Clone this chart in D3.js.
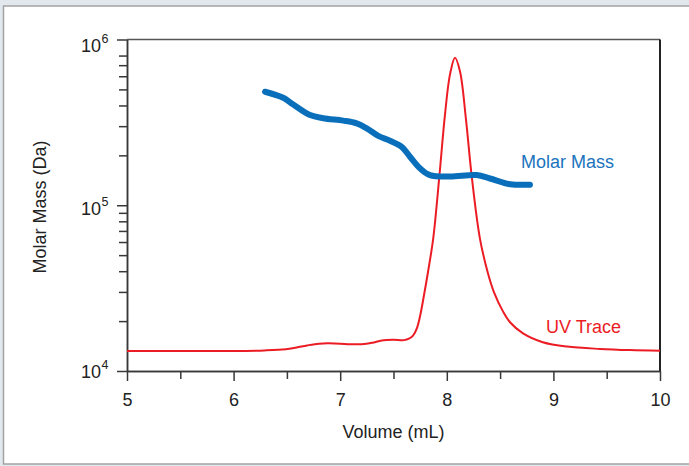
<!DOCTYPE html>
<html><head><meta charset="utf-8">
<script src="https://cdn.jsdelivr.net/npm/d3@7"></script>
<style>
html,body{margin:0;padding:0;background:#fff;}
svg{display:block;font-family:"Liberation Sans",Arial,sans-serif;}
</style></head>
<body>
<svg id="c" width="689" height="466"></svg>
<script>
// ---- data ----
const majorX = [5, 6, 7, 8, 9, 10];
const minorX = [5.5, 6.5, 7.5, 8.5, 9.5];
const majorY = [1e4, 1e5, 1e6];
const majorYExp = ["4", "5", "6"];
const minorY = [2e4,3e4,4e4,5e4,6e4,7e4,8e4,9e4,2e5,3e5,4e5,5e5,6e5,7e5,8e5];

// Molar mass (Da) vs volume (mL)
const mmVolume = [6.295,6.466,6.56,6.717,6.84,7.029,7.155,7.249,7.357,7.467,7.577,7.655,7.749,7.842,8.03,8.28,8.405,8.593,8.78];
const mmMass   = [4.84e5,4.45e5,4.05e5,3.50e5,3.35e5,3.24e5,3.12e5,2.91e5,2.62e5,2.45e5,2.25e5,1.96e5,1.67e5,1.52e5,1.49e5,1.52e5,1.45e5,1.34e5,1.33e5];

// UV trace (relative, peak = 1) vs volume (mL)
const uvVolume = [5.0,5.5,6.0,6.29,6.49,6.59,6.69,6.80,6.89,7.0,7.09,7.2,7.3,7.39,7.5,7.6,7.645,7.683,7.72,7.75,7.786,7.824,7.873,7.93,7.983,8.03,8.077,8.124,8.18,8.234,8.31,8.386,8.443,8.527,8.593,8.715,8.9,9.128,9.437,9.72,10.0];
const uvValue  = [0.0,0.0,0.0,0.002,0.006,0.012,0.019,0.025,0.026,0.025,0.023,0.023,0.028,0.036,0.038,0.037,0.042,0.052,0.078,0.12,0.19,0.27,0.385,0.595,0.806,0.943,1.0,0.953,0.789,0.595,0.385,0.265,0.2,0.135,0.098,0.06,0.03,0.015,0.007,0.003,0.001];

// ---- chart ----
const svg = d3.select("#c");
const L = 127, R = 660, T = 39.5, B = 371;
const x = d3.scaleLinear().domain([5, 10]).range([L, R]);
const y = d3.scaleLog().domain([1e4, 1e6]).range([B, T]);
const yUV = d3.scaleLinear().domain([-0.0683, 1.062]).range([B, T]);

// frame
svg.append("rect").attr("x",0).attr("y",0).attr("width",689).attr("height",466).attr("fill","#e3e8ee");
svg.append("rect").attr("x",3.5).attr("y",6).attr("width",700).attr("height",458)
  .attr("fill","#fff").attr("stroke","#a3a3a3").attr("stroke-width",1.5);

const axisColor = "#383838";
const txtColor = "#222";

// top & right border
svg.append("line").attr("x1",L).attr("x2",R).attr("y1",y(1e6)).attr("y2",y(1e6))
  .attr("stroke","#555").attr("stroke-width",1.5);
svg.append("line").attr("x1",x(10)).attr("x2",x(10)).attr("y1",T).attr("y2",B)
  .attr("stroke","#222").attr("stroke-width",2);

function styleAxis(g){
  g.selectAll("path,line").attr("stroke",axisColor).attr("stroke-width",1.5);
  g.selectAll("text").remove();
}

// x axis
svg.append("g").attr("transform",`translate(0,${B})`)
  .call(d3.axisBottom(x).tickValues(minorX).tickSize(8).tickSizeOuter(0).tickFormat(""))
  .call(styleAxis);
const gx = svg.append("g").attr("transform",`translate(0,${B})`)
  .call(d3.axisBottom(x).tickValues(majorX).tickSize(10).tickSizeOuter(0).tickFormat(d3.format("d")))
  .call(g=>g.selectAll("path,line").attr("stroke",axisColor).attr("stroke-width",1.5));
gx.selectAll("text").attr("y",null).attr("dy",null).attr("transform","translate(0,35)")
  .attr("font-size",18).attr("fill",txtColor).attr("font-family","Liberation Sans, Arial, sans-serif");

// y axis
svg.append("g").attr("transform",`translate(${L},0)`)
  .call(d3.axisLeft(y).tickValues(minorY).tickSize(8).tickSizeOuter(0).tickFormat(""))
  .call(styleAxis);
svg.append("g").attr("transform",`translate(${L},0)`)
  .call(d3.axisLeft(y).tickValues(majorY).tickSize(10).tickSizeOuter(0).tickFormat(""))
  .call(styleAxis);

const labelShift = [7, 10, 12.5];
const yl = svg.append("g");
majorY.forEach((v,i)=>{
  const by = y(v) + labelShift[i];
  yl.append("text").attr("x",101).attr("y",by)
    .attr("text-anchor","end").attr("font-size",18).attr("fill",txtColor).text("10");
  yl.append("text").attr("x",101.5).attr("y",by-9).attr("font-size",12.5).attr("fill",txtColor).text(majorYExp[i]);
});

// axis titles
svg.append("text").attr("x",(L+R)/2).attr("y",438).attr("text-anchor","middle")
  .attr("font-size",18).attr("fill",txtColor).text("Volume (mL)");
svg.append("text").attr("transform","translate(46,207) rotate(-90)").attr("text-anchor","middle")
  .attr("font-size",18).attr("fill",txtColor).text("Molar Mass (Da)");

// UV trace
const uvData = uvVolume.map((v,i)=>[v, uvValue[i]]);
svg.append("path").datum(uvData)
  .attr("d", d3.line().x(d=>x(d[0])).y(d=>yUV(d[1])).curve(d3.curveCatmullRom.alpha(0.5)))
  .attr("fill","none").attr("stroke","#ec1c24").attr("stroke-width",2);

// Molar mass
const mmData = mmVolume.map((v,i)=>[v, mmMass[i]]);
svg.append("path").datum(mmData)
  .attr("d", d3.line().x(d=>x(d[0])).y(d=>y(d[1])).curve(d3.curveCatmullRom.alpha(0.5)))
  .attr("fill","none").attr("stroke","#0a6fba").attr("stroke-width",6)
  .attr("stroke-linecap","round").attr("stroke-linejoin","round");

// labels
svg.append("text").attr("x",521).attr("y",168).attr("font-size",18).attr("fill","#1a73bd").text("Molar Mass");
svg.append("text").attr("x",546).attr("y",333).attr("font-size",18).attr("fill","#ec1c24").text("UV Trace");
</script>
</body></html>
